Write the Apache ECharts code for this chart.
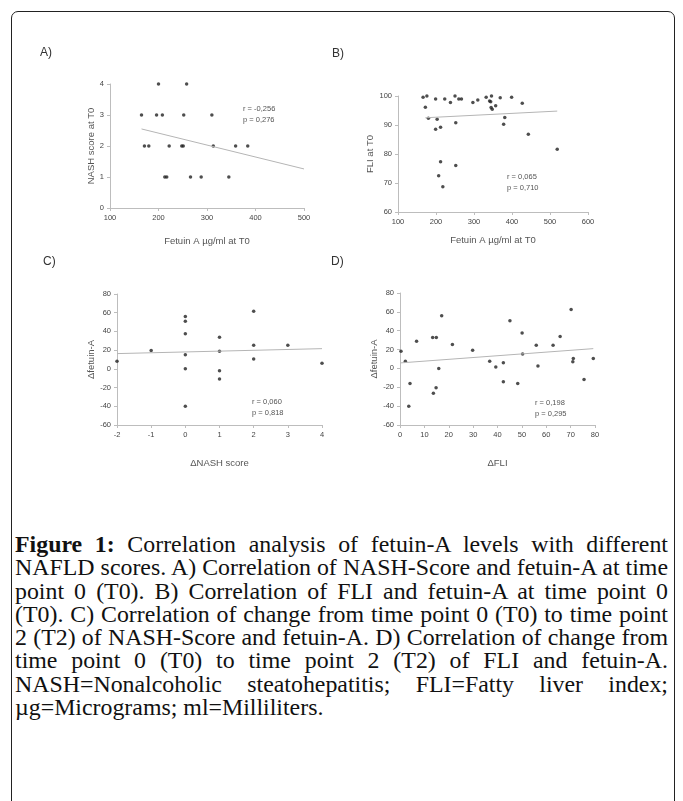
<!DOCTYPE html>
<html>
<head>
<meta charset="utf-8">
<script src="https://cdn.jsdelivr.net/npm/echarts@6/dist/echarts.min.js"></script>
<style>
  html, body { margin:0; padding:0; background:#fff; width:683px; height:801px; overflow:hidden; }
  #frame { position:absolute; left:11px; top:11px; width:662px; height:900px; border:1.5px solid #222; border-radius:7px; }
  #chart { position:absolute; left:0; top:0; width:683px; height:500px; }
  #caption { position:absolute; left:15px; top:533px; width:653px; font-family:"Liberation Serif","DejaVu Serif",serif; font-size:20px; line-height:23.3px; color:#111; }
  #caption .ln { white-space:nowrap; text-align:justify; text-align-last:justify; height:23.3px; }
  #caption .ln.last { text-align:left; text-align-last:left; }
  #caption b { font-weight:bold; }
  #measure { position:absolute; left:0; top:0; visibility:hidden; white-space:nowrap; font-family:"Liberation Serif","DejaVu Serif",serif; font-size:20px; }
</style>
</head>
<body>
<div id="frame"></div>
<div id="chart"></div>
<div id="caption"></div>
<span id="measure"></span>
<script>
// Panel A: NASH score vs Fetuin A at T0
const aFetuin = [200,258,165,196,208,252,310,171,180,222,248,251,313,359,384,213,217,266,288,345];
const aNash   = [4,4,3,3,3,3,3,2,2,2,2,2,2,2,2,1,1,1,1,1];
const aTrendX = [165,500];
const aTrendY = [2.55,1.26];

// Panel B: FLI vs Fetuin A at T0
const bFetuin = [166,176,172,180,199,203,199,212,223,238,250,252,260,267,212,252,207,218,297,310,332,341,344,346,345,348,357,369,381,378,399,427,443,519];
const bFli    = [99.6,100,96.1,92.3,99,92,88.5,89.2,99,97.8,100,90.8,99,99,77.3,76,72.5,68.7,97.8,98.6,99.6,98.3,98,100,96,95.4,96.6,99.4,92.6,90.3,99.6,97.5,86.8,81.6];
const bTrendX = [172,519];
const bTrendY = [92.5,94.8];

// Panel C: delta fetuin-A vs delta NASH score
const cNash    = [-2,-1,0,0,0,0,0,0,1,1,1,1,2,2,2,3,4];
const cFetuin  = [8,19.5,56,50.8,37.6,15.2,0.2,-40,33.7,18.7,-1.9,-10.8,61.5,25.2,10.6,25.2,6];
const cTrendX = [-2,4];
const cTrendY = [16.3,21.6];

// Panel D: delta fetuin-A vs delta FLI
const dFli     = [0.4,2.2,4.1,3.6,6.8,13.4,14.9,17.1,15.9,13.7,14.8,21.5,29.8,36.8,39.3,42.4,42.4,45.1,48.3,50.1,50.3,55.9,56.6,62.8,65.7,70.2,71.1,70.9,75.5,79.3];
const dFetuin  = [18.2,7.6,-16,-40,28.8,32.7,32.7,56,-0.1,-26.2,-20.6,25.3,19.3,7.6,1.6,5.9,-14.2,50.7,-16,37.6,15.4,24.6,2.7,24.6,33.8,62.4,10.5,7,-11.8,10.5];
const dTrendX = [0.4,79.3];
const dTrendY = [5.9,21];

// Caption lines (as laid out in the figure)
const captionLines = [
  '<b>Figure 1:</b> Correlation analysis of fetuin-A levels with different',
  'NAFLD scores. A) Correlation of NASH-Score and fetuin-A at time',
  'point 0 (T0). B) Correlation of FLI and fetuin-A at time point 0',
  '(T0). C) Correlation of change from time point 0 (T0) to time point',
  '2 (T2) of NASH-Score and fetuin-A. D) Correlation of change from',
  'time point 0 (T0) to time point 2 (T2) of FLI and fetuin-A.',
  'NASH=Nonalcoholic steatohepatitis; FLI=Fatty liver index;',
  'µg=Micrograms; ml=Milliliters.'
];

// build caption with font size fitted to the dense lines
(function(){
  const m = document.getElementById('measure');
  let ratio = Infinity;
  for (let i = 0; i < 5; i++) {
    m.innerHTML = captionLines[i];
    ratio = Math.min(ratio, 652 / m.getBoundingClientRect().width);
  }
  const cap = document.getElementById('caption');
  cap.style.fontSize = (20 * ratio).toFixed(2) + 'px';
  captionLines.forEach((l, i) => {
    const d = document.createElement('div');
    d.className = 'ln' + (i === captionLines.length - 1 ? ' last' : '');
    d.innerHTML = l;
    cap.appendChild(d);
  });
})();

const zip = (xs, ys) => xs.map((x, i) => [x, ys[i]]);

const axisCol = '#bdbdbd';
const labCol = '#444';
const font = 'Liberation Sans, Arial, sans-serif';

function xAx(idx, min, max, interval, name, gap) {
  return {
    gridIndex: idx, type:'value', min, max, interval,
    name, nameLocation:'middle', nameGap:gap,
    nameTextStyle:{ color:'#555', fontSize:9.5, fontFamily:font },
    axisLine:{ show:true, onZero:false, lineStyle:{ color:axisCol, width:1 } },
    axisTick:{ show:true, length:3, lineStyle:{ color:axisCol } },
    axisLabel:{ color:labCol, fontSize:7.5, fontFamily:font, margin:6 },
    splitLine:{ show:false }
  };
}
function yAx(idx, min, max, interval, name, gap) {
  return {
    gridIndex: idx, type:'value', min, max, interval,
    name, nameLocation:'middle', nameGap:gap, nameRotate:90,
    nameTextStyle:{ color:'#555', fontSize:9.5, fontFamily:font },
    axisLine:{ show:true, onZero:false, lineStyle:{ color:axisCol, width:1 } },
    axisTick:{ show:true, length:3, lineStyle:{ color:axisCol } },
    axisLabel:{ color:labCol, fontSize:7.5, fontFamily:font, margin:6 },
    splitLine:{ show:false }
  };
}
function scat(i, data) {
  return { type:'scatter', xAxisIndex:i, yAxisIndex:i, data, symbol:'circle', symbolSize:3.5,
           itemStyle:{ color:'#222' }, silent:true };
}
function trend(i, xs, ys) {
  return { type:'line', xAxisIndex:i, yAxisIndex:i, data:zip(xs, ys), symbol:'none',
           lineStyle:{ color:'#b5b5b5', width:1 }, silent:true };
}
function txt(left, top, s, size, weight, col) {
  return { type:'text', left, top, style:{ text:s, fontSize:size, fontWeight:weight||'normal',
           fill:col||'#555', fontFamily:font, lineHeight:11 } };
}

const chart = echarts.init(document.getElementById('chart'), null, { renderer:'canvas' });
chart.setOption({
  animation:false,
  backgroundColor:'transparent',
  grid:[
    { left:110, top:84, width:194, height:124 },
    { left:398, top:96, width:190, height:116 },
    { left:117, top:294, width:205, height:131 },
    { left:400, top:293, width:195, height:132 }
  ],
  xAxis:[
    xAx(0, 100, 500, 100, 'Fetuin A µg/ml at T0', 28),
    xAx(1, 100, 600, 100, 'Fetuin A µg/ml at T0', 23),
    xAx(2, -2, 4, 1, '\u0394NASH score', 33),
    xAx(3, 0, 80, 10, '\u0394FLI', 33)
  ],
  yAxis:[
    yAx(0, 0, 4, 1, 'NASH score at T0', 11),
    yAx(1, 60, 100, 10, 'FLI at T0', 15),
    yAx(2, -60, 80, 20, '\u0394fetuin-A', 12),
    yAx(3, -60, 80, 20, '\u0394fetuin-A', 17)
  ],
  series:[
    scat(0, zip(aFetuin, aNash)), trend(0, aTrendX, aTrendY),
    scat(1, zip(bFetuin, bFli)), trend(1, bTrendX, bTrendY),
    scat(2, zip(cNash, cFetuin)), trend(2, cTrendX, cTrendY),
    scat(3, zip(dFli, dFetuin)), trend(3, dTrendX, dTrendY)
  ],
  graphic:[
    txt(40, 47, 'A)', 12, 'normal', '#333'),
    txt(332, 48, 'B)', 12, 'normal', '#333'),
    txt(43, 256, 'C)', 12, 'normal', '#333'),
    txt(331, 256, 'D)', 12, 'normal', '#333'),
    txt(243, 103, 'r = -0,256\np = 0,276', 7.5),
    txt(507, 171, 'r = 0,065\np = 0,710', 7.5),
    txt(252, 396, 'r = 0,060\np = 0,818', 7.5),
    txt(535, 397, 'r = 0,198\np = 0,295', 7.5)
  ]
});
</script>
</body>
</html>
